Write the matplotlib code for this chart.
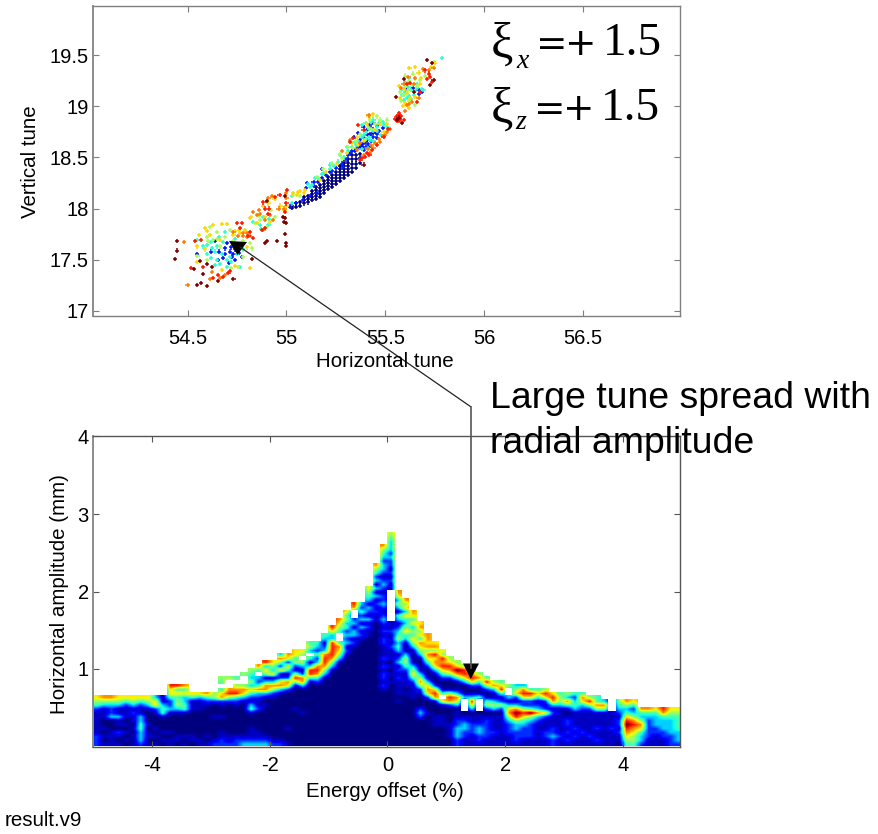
#!/usr/bin/env python3
import matplotlib
matplotlib.use("Agg")
import matplotlib.pyplot as plt
import numpy as np

plt.rcParams["font.family"] = ["Liberation Sans", "DejaVu Sans"]

# tune diagram, points grouped by colour (jet fraction -> (Qx, Qz))
dark_blue = [
    (55.03, 18.01), (55.03, 18.03), (55.05, 18.02), (55.05, 18.05), (55.07, 18.03), (55.07, 18.06),
    (55.09, 18.05), (55.09, 18.08), (55.09, 18.11), (55.11, 18.06), (55.11, 18.09), (55.11, 18.12),
    (55.13, 18.08), (55.13, 18.11), (55.13, 18.14), (55.13, 18.17), (55.15, 18.09), (55.15, 18.12),
    (55.15, 18.15), (55.15, 18.18), (55.15, 18.21), (55.17, 18.11), (55.17, 18.14), (55.17, 18.17),
    (55.17, 18.20), (55.17, 18.23), (55.19, 18.15), (55.19, 18.18), (55.19, 18.21), (55.19, 18.24),
    (55.19, 18.27), (55.21, 18.19), (55.21, 18.22), (55.21, 18.25), (55.21, 18.28), (55.21, 18.31),
    (55.23, 18.21), (55.23, 18.24), (55.23, 18.27), (55.23, 18.30), (55.23, 18.33), (55.25, 18.24),
    (55.25, 18.27), (55.25, 18.30), (55.25, 18.33), (55.25, 18.36), (55.27, 18.27), (55.27, 18.30),
    (55.27, 18.33), (55.27, 18.36), (55.27, 18.39), (55.27, 18.42), (55.29, 18.30), (55.29, 18.33),
    (55.29, 18.36), (55.29, 18.39), (55.29, 18.42), (55.29, 18.45), (55.31, 18.33), (55.31, 18.36),
    (55.31, 18.39), (55.31, 18.42), (55.31, 18.45), (55.31, 18.48), (55.33, 18.36), (55.33, 18.40),
    (55.33, 18.44), (55.33, 18.48), (55.33, 18.52), (55.35, 18.40), (55.35, 18.44), (55.35, 18.48),
    (55.35, 18.52), (55.37, 18.45), (55.37, 18.49), (55.37, 18.53), (55.38, 18.60), (55.40, 18.66),
    (55.42, 18.72), (55.44, 18.74),
]
blue = [
    (54.546, 17.56), (54.69, 17.61), (54.656, 17.50), (54.723, 17.53), (54.774, 17.53), (54.69, 17.56),
    (54.715, 17.58), (54.732, 17.56), (54.74, 17.50), (55.02, 18.02), (55.05, 18.05), (55.086, 18.08),
    (55.12, 18.12), (55.153, 18.15), (55.103, 18.25), (55.137, 18.26), (55.18, 18.39), (55.22, 18.36),
    (55.288, 18.41), (55.322, 18.54), (55.39, 18.64), (55.407, 18.67), (55.347, 18.56), (55.423, 18.73),
    (55.373, 18.59), (55.457, 18.73), (55.407, 18.77), (55.668, 19.16), (55.685, 19.14),
    (55.10, 18.20), (55.14, 18.22), (55.16, 18.26), (55.18, 18.30), (55.20, 18.33), (55.23, 18.37),
    (55.25, 18.40), (55.28, 18.44), (55.30, 18.48), (55.31, 18.52), (55.33, 18.56), (55.35, 18.58),
    (55.36, 18.61), (55.38, 18.62), (55.40, 18.60), (55.41, 18.63), (55.43, 18.66), (55.42, 18.60),
    (55.39, 18.57), (55.44, 18.70), (55.46, 18.69), (55.45, 18.75), (55.47, 18.76), (55.43, 18.79),
    (55.41, 18.72), (55.39, 18.69), (55.37, 18.67), (55.44, 18.84), (55.46, 18.81), (55.49, 18.79),
    (55.42, 18.82), (55.39, 18.80), (55.36, 18.74), (55.34, 18.70), (54.70, 17.66), (54.72, 17.62),
    (54.74, 17.60), (54.68, 17.52), (54.76, 17.57), (54.66, 17.58), (55.64, 19.18), (55.61, 19.17),
    (55.67, 19.12), (54.62, 17.58), (54.64, 17.68), (54.71, 17.47),
]
cyan = [
    (55.786, 19.47), (54.70, 17.43), (54.647, 17.50), (54.639, 17.58), (54.597, 17.56), (54.546, 17.69),
    (54.715, 17.53), (54.69, 17.77), (54.673, 17.56), (54.622, 17.61), (54.664, 17.46), (54.749, 17.56),
    (54.766, 17.43), (54.833, 17.87), (54.867, 17.84), (54.909, 17.84), (55.027, 18.12), (55.027, 18.05),
    (55.12, 18.214), (55.145, 18.30), (55.18, 18.34), (55.22, 18.43), (55.272, 18.52), (55.305, 18.605),
    (55.347, 18.65), (55.381, 18.82), (55.39, 18.72), (55.44, 18.87), (55.457, 18.80), (55.491, 18.82),
    (55.423, 18.67), (55.617, 19.19), (55.584, 19.11), (55.609, 19.08), (55.643, 19.11), (55.685, 19.17),
    (55.693, 19.16), (55.66, 19.22), (55.592, 19.06),
    (55.11, 18.24), (55.13, 18.23), (55.16, 18.30), (55.19, 18.35), (55.22, 18.39), (55.24, 18.42),
    (55.26, 18.46), (55.29, 18.50), (55.31, 18.56), (55.33, 18.60), (55.35, 18.62), (55.36, 18.66),
    (55.38, 18.70), (55.40, 18.75), (55.42, 18.78), (55.44, 18.76), (55.46, 18.76), (55.48, 18.72),
    (55.40, 18.84), (55.43, 18.85), (55.47, 18.84), (55.49, 18.85), (55.51, 18.80), (55.40, 18.68),
    (55.42, 18.70), (55.44, 18.66), (55.41, 18.59), (55.38, 18.58), (54.62, 17.67), (54.65, 17.63),
    (54.68, 17.67), (54.72, 17.48), (54.60, 17.64), (54.74, 17.70), (54.66, 17.72), (55.63, 19.16),
    (55.60, 19.14), (55.65, 19.15), (55.62, 19.10), (55.62, 19.28), (55.60, 19.24), (55.66, 19.18),
    (55.58, 19.16), (55.63, 19.07), (54.88, 17.92), (54.91, 17.90), (54.87, 17.80), (54.62, 17.52),
    (54.58, 17.63), (54.64, 17.45), (54.70, 17.50), (54.75, 17.65), (54.78, 17.60),
]
green = [
    (54.614, 17.82), (54.647, 17.77), (54.63, 17.69), (54.664, 17.63), (54.605, 17.68), (54.757, 17.43),
    (54.782, 17.53), (54.825, 17.61), (54.715, 17.79), (54.816, 17.66), (54.867, 17.89), (54.84, 17.86),
    (54.90, 17.82), (54.943, 17.92), (55.035, 18.13), (55.07, 18.12), (55.153, 18.31), (55.187, 18.39),
    (55.23, 18.44), (55.28, 18.49), (55.339, 18.59), (55.373, 18.73), (55.423, 18.87), (55.474, 18.87),
    (55.508, 18.87), (55.398, 18.67), (55.43, 18.78), (55.617, 19.16), (55.651, 19.27), (55.677, 19.26),
    (55.592, 19.11), (55.634, 19.21), (55.744, 19.43), (55.651, 19.01), (55.575, 19.14),
    (54.60, 17.72), (54.65, 17.70), (54.69, 17.72), (54.73, 17.68), (55.27, 18.53), (55.31, 18.60),
    (55.35, 18.66), (55.41, 18.80), (55.45, 18.83), (55.62, 19.25), (55.60, 19.19), (55.60, 19.30),
    (55.64, 19.32), (55.66, 19.20), (55.58, 19.05), (55.62, 19.05), (55.70, 19.30), (55.46, 18.90),
    (54.86, 17.93), (54.92, 17.99), (54.55, 17.54), (54.72, 17.42), (54.60, 17.50), (54.78, 17.68),
]
yellow = [
    (54.816, 17.42), (54.588, 17.81), (54.63, 17.84), (54.673, 17.85), (54.70, 17.85), (54.614, 17.74),
    (54.588, 17.60), (54.664, 17.69), (54.732, 17.74), (54.766, 17.76), (54.79, 17.79), (54.546, 17.63),
    (54.546, 17.48), (54.673, 17.40), (54.816, 17.905), (54.85, 17.86), (54.892, 17.92), (54.917, 17.87),
    (54.909, 18.05), (55.0, 18.03), (54.99, 17.99), (55.035, 18.15), (55.06, 18.165), (55.094, 18.18),
    (55.052, 18.13), (55.17, 18.28), (55.20, 18.36), (55.255, 18.44), (55.305, 18.54), (55.33, 18.64),
    (55.356, 18.70), (55.407, 18.83), (55.415, 18.90), (55.437, 18.92), (55.474, 18.83), (55.508, 18.83),
    (55.449, 18.77), (55.491, 18.75), (55.622, 19.37), (55.668, 19.33), (55.752, 19.42), (55.609, 19.125),
    (55.626, 19.08), (55.651, 19.09), (55.575, 19.08), (55.60, 19.03), (55.677, 19.22), (55.592, 19.17),
    (54.76, 17.79), (54.74, 17.78), (55.07, 18.17), (55.09, 18.15), (55.36, 18.62), (55.39, 18.66),
    (55.65, 19.38), (55.68, 19.28), (55.59, 19.00), (55.62, 18.98), (55.57, 19.20), (55.73, 19.38),
    (54.82, 17.92), (54.88, 18.03), (54.94, 18.09), (54.97, 18.03), (54.56, 17.74), (54.74, 17.44),
    (54.80, 17.62), (54.60, 17.78),
]
orange = [
    (54.50, 17.25), (54.484, 17.67), (54.622, 17.38), (54.614, 17.31), (54.664, 17.32), (54.69, 17.35),
    (54.80, 17.76), (54.782, 17.73), (54.816, 17.73), (54.732, 17.775), (54.757, 17.73), (54.867, 17.95),
    (54.85, 17.94), (54.892, 17.89), (54.917, 17.94), (54.934, 17.89), (54.884, 17.79), (54.909, 18.10),
    (54.926, 18.12), (54.998, 18.15), (55.0, 18.10), (54.99, 18.0), (55.423, 18.54), (55.44, 18.59),
    (55.474, 18.65), (55.50, 18.72), (55.525, 18.78), (55.356, 18.57), (55.373, 18.64), (55.322, 18.67),
    (55.28, 18.56), (55.415, 18.91), (55.744, 19.37), (55.617, 19.29), (55.592, 19.22), (55.643, 19.22),
    (55.609, 19.01), (55.634, 19.04), (55.60, 18.95), (55.668, 19.08), (55.693, 19.36),
    (54.78, 17.76), (54.80, 17.72), (55.43, 18.62), (55.45, 18.64), (55.47, 18.68), (55.49, 18.71),
    (55.51, 18.75), (55.41, 18.58), (55.39, 18.52), (55.58, 19.18), (55.65, 19.28), (55.72, 19.35),
    (55.62, 19.02), (54.83, 17.97), (54.86, 17.99), (54.96, 18.0),
]
red = [
    (54.538, 17.68), (54.57, 17.69), (54.63, 17.32), (54.656, 17.35), (54.681, 17.33), (54.706, 17.37),
    (54.715, 17.385), (54.52, 17.42), (54.58, 17.43), (54.749, 17.86), (54.774, 17.856), (54.766, 17.81),
    (54.816, 17.775), (54.808, 17.73), (54.833, 17.71), (54.892, 17.81), (54.875, 17.79), (54.892, 18.0),
    (54.914, 18.0), (54.909, 17.95), (54.884, 18.06), (54.943, 18.11), (54.965, 18.13), (55.0, 18.05),
    (54.993, 17.97), (55.005, 18.18), (55.364, 18.82), (55.39, 18.77), (55.407, 18.54), (55.398, 18.507),
    (55.373, 18.475), (55.516, 18.78), (55.491, 18.70), (55.457, 18.62), (55.432, 18.57), (55.339, 18.69),
    (55.322, 18.65), (55.702, 19.35), (55.719, 19.32), (55.727, 19.29), (55.735, 19.24), (55.71, 19.27),
    (55.609, 19.22), (55.626, 19.23), (55.567, 18.91), (55.55, 18.88), (55.575, 18.88), (55.592, 18.865),
    (55.66, 19.04), (55.676, 19.14), (55.56, 18.90), (55.57, 18.86), (55.58, 18.90), (55.56, 18.86),
    (55.57, 18.93), (55.42, 18.52), (55.38, 18.49),
]
dark_red = [
    (54.448, 17.68), (54.445, 17.59), (54.438, 17.51), (54.546, 17.25), (54.60, 17.24), (54.57, 17.27),
    (54.58, 17.36), (54.563, 17.49), (54.597, 17.46), (54.534, 17.41), (54.622, 17.43), (54.732, 17.31),
    (54.656, 17.29), (54.825, 17.51), (54.90, 17.68), (54.892, 17.66), (54.954, 17.68), (54.993, 17.75),
    (54.998, 17.66), (54.997, 17.635), (54.993, 17.905), (54.99, 17.87), (54.998, 17.86), (54.985, 17.92),
    (54.993, 18.12), (54.90, 18.07), (55.71, 19.45), (55.744, 19.256), (55.727, 19.21), (55.736, 19.42),
    (55.595, 19.27), (55.555, 19.09), (55.643, 19.14), (55.584, 18.84), (55.558, 18.865), (55.567, 18.89),
    (55.39, 18.43),
]
tune_groups = [
    (0.0, dark_blue), (0.15, blue), (0.4, cyan), (0.55, green),
    (0.68, yellow), (0.78, orange), (0.88, red), (1.0, dark_red),
]

# diffusion map: one string per energy column (0.125 %), from amp 0 upward in 0.05 mm cells
# digit = diffusion level, '.' = lost cell inside the aperture
diffusion_cols = [
    "2221111112456", "1010100111357", "1111000322357", "1012011311356", "0101010111246",
    "1010101121356", "2333443311246", "1011010001356", "1010100012663", "0101000144311",
    "1101000013224668", "0110000013554648", "1010000014433647", "01100000011146", "11000000011136",
    "10100000001247", "21000001000255", "221100010012764.45", "211000000002587..5", "2210000000124875.4",
    "3210000000013675..5", "32111000143124635345", "321100000211237423.47", "3210000000101377315638",
    "2100000000001257316356", "210000000000013762162573", "100010000000002672146267",
    "0000000001000001585125466", "0000000010000003772135.56", "00000000000000001488314.354",
    "000000000000000024787324234", "00000000000000000135788732134", "0000000000000000000135788883368",
    "000000000000000000000135674..4567", "00000000000000000000000121323243546",
    "000000000000000000000000012133132..78", "0000000000000000000000000001213132423",
    "00000000000000000000000000001121312313456", "00000000000000000000000000000000112121313132457",
    "0000000000000012122121211122121232123221232123323457",
    "00000000000000001010101112111211........112121223233345",
    "0000000000010111121213213435432134135367",
    "00000000000001011112455310134653463657",
    "00000000000011112465310013564536467",
    "00000002320001257531001356746576",
    "00000000100026763100246757677",
    "000001110001786200136768576",
    "0000011100" + "16.410024687856",
    "00111100002785100257865",
    "2233322110367310147965",
    "112233210...310036885",
    "11122211036831026875",
    "122332110...4102475",
    "112222210254102584",
    "11121111035311375",
    "11111111025214864",
    "1112223576313..5",
    "1222335897312653",
    "1122234685226873",
    "112222359422684",
    "111111237321464",
    "112211126212685",
    "22322111213786",
    "11211111113554",
    "12121221014735",
    "11212111134324",
    "11121111123674",
    "1121111112585",
    "1211211115744",
    "111111111573",
    "111121111...",
    "011212212345",
    "456789864357",
    "455678753246",
    "2334675347",
    "1122222347",
    "1112233346",
    "1122333478",
    "2223333456",
    "2333444456",
]
n_amp_rows = 56
digit_levels = [0.0, 0.06, 0.17, 0.33, 0.43, 0.53, 0.66, 0.76, 0.88, 1.0]

xtick_top = [54.5, 55, 55.5, 56, 56.5]
xticklabels_top = ["54.5", "55", "55.5", "56", "56.5"]
ytick_top = [17, 17.5, 18, 18.5, 19, 19.5]
yticklabels_top = ["17", "17.5", "18", "18.5", "19", "19.5"]
xtick_bot = [-4, -2, 0, 2, 4]
xticklabels_bot = ["-4", "-2", "0", "2", "4"]
ytick_bot = [1, 2, 3, 4]
yticklabels_bot = ["1", "2", "3", "4"]


def diffusion_matrix(cols, n_rows):
    # returns levels (blank cells carry the value below, so the colours don't bleed) and blank mask
    levels = np.zeros((n_rows, len(cols)))
    blank = np.ones((n_rows, len(cols)), dtype=bool)
    for i, col in enumerate(cols):
        last = 0.0
        for j in range(n_rows):
            ch = col[j] if j < len(col) else "."
            if ch != ".":
                last = digit_levels[int(ch)]
                blank[j, i] = False
            levels[j, i] = last
    return levels, blank


def style_axes(ax, color, xpad, ypad):
    for s in ax.spines.values():
        s.set_color(color)
        s.set_linewidth(1.0)
    ax.spines["left"].set_color("#8c8c8c")
    ax.spines["left"].set_linewidth(1.4)
    ax.tick_params(direction="in", length=4, width=0.8, color=color, top=True, right=True,
                   labelsize=14.5, labelcolor="black")
    ax.tick_params(axis="x", pad=xpad)
    ax.tick_params(axis="y", pad=ypad)


def main():
    W, H = 879, 834
    fig = plt.figure(figsize=(W / 100, H / 100), dpi=100)

    ax_top = fig.add_axes([93 / W, 1 - 316 / H, 587 / W, 310 / H])
    for v, pts in tune_groups:
        xy = np.array(pts)
        ax_top.scatter(xy[:, 0], xy[:, 1], c=[v] * len(xy), cmap="jet", vmin=0, vmax=1,
                       marker="+", s=9, linewidths=1.1)
    ax_top.set_xlim(54.022, 56.99)
    ax_top.set_ylim(16.95, 19.98)
    ax_top.set_xticks(xtick_top, xticklabels_top)
    ax_top.set_yticks(ytick_top, yticklabels_top)
    style_axes(ax_top, "#7f7f7f", 9, 3)

    ax_bot = fig.add_axes([93 / W, 1 - 746.5 / H, 587 / W, 310 / H])
    levels, blank = diffusion_matrix(diffusion_cols, n_amp_rows)
    ax_bot.imshow(levels, origin="lower", aspect="auto", extent=[-5, 5, 0, 2.8],
                  cmap="jet", vmin=0, vmax=1, interpolation="bilinear")
    white = np.zeros(blank.shape + (4,))
    white[..., :3] = 1.0
    white[..., 3] = blank
    ax_bot.imshow(white, origin="lower", aspect="auto", extent=[-5, 5, 0, 2.8],
                  interpolation="nearest")
    ax_bot.set_xlim(-5, 4.97)
    ax_bot.set_ylim(0, 4)
    ax_bot.set_xticks(xtick_bot, xticklabels_bot)
    ax_bot.set_yticks(ytick_bot, yticklabels_bot)
    style_axes(ax_bot, "#555555", 7, 3)

    # overlay in pixel coordinates for the annotations
    ov = fig.add_axes([0, 0, 1, 1], facecolor="none")
    ov.set_xlim(0, W)
    ov.set_ylim(H, 0)
    ov.axis("off")
    ov.plot([470.7, 240], [406.7, 247], color="#222222", lw=0.9)
    ov.plot([470.7, 470.7], [406.7, 668], color="#555555", lw=1.2)
    ov.fill([229, 247, 237.5], [241, 242, 255], color="black", lw=0)
    ov.fill([463, 479, 470.7], [663.5, 663.5, 679], color="black", lw=0)

    ov.text(385, 367, "Horizontal tune", ha="center", va="baseline", fontsize=14.8)
    ov.text(31, 162, "Vertical tune", ha="center", va="center", rotation=90, fontsize=14.8)
    ov.text(385, 797, "Energy offset (%)", ha="center", va="baseline", fontsize=14.8)
    ov.text(60, 594, "Horizontal amplitude (mm)", ha="center", va="center", rotation=90, fontsize=14.8)
    ov.text(5, 826, "result.v9", ha="left", va="baseline", fontsize=14.8)
    ov.text(490, 408, "Large tune spread with", ha="left", va="baseline", fontsize=26.9)
    ov.text(490, 453, "radial amplitude", ha="left", va="baseline", fontsize=26.9)

    serif = "Liberation Serif"
    sans = "DejaVu Sans"
    for base, sub, sub_base, sub_x, eq_x in [(55, "x", 68, 516, 536), (120, "z", 129, 515, 534)]:
        ov.text(491, base + 3, "ξ", family=serif, fontsize=36, ha="left", va="baseline")
        ov.text(sub_x, sub_base, sub, family=serif, style="italic", fontsize=20, ha="left", va="baseline")
        ov.text(eq_x, base, "=", family=sans, fontsize=27, ha="left", va="baseline")
        ov.text(eq_x + 29, base, "+", family=sans, fontsize=27, ha="left", va="baseline")
        ov.text(eq_x + 67, base, "1.5", family=serif, fontsize=34, ha="left", va="baseline")

    fig.savefig("out.png", dpi=100)
    plt.close(fig)


if __name__ == "__main__":
    main()
